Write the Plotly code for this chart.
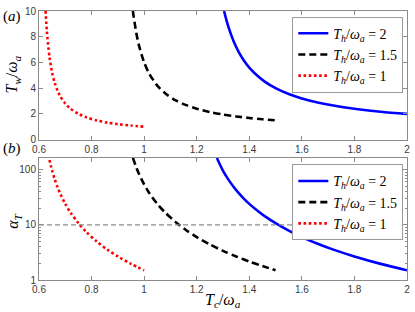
import plotly.graph_objects as go

# ---------------- data ----------------
x_range = [0.6, 2.0]

# panel (a): T_w / omega_a versus T_c / omega_a
red_top_x = [0.625, 0.63, 0.64, 0.65, 0.66, 0.67, 0.68, 0.70, 0.72, 0.75, 0.78, 0.82, 0.86, 0.90, 0.95, 1.0]
red_top_y = [10.0, 8.40, 6.40, 5.20, 4.40, 3.83, 3.40, 2.80, 2.40, 2.00, 1.73, 1.49, 1.32, 1.20, 1.09, 1.0]

black_top_x = [0.957, 0.96, 0.97, 0.98, 1.0, 1.02, 1.05, 1.08, 1.12, 1.16, 1.20, 1.25, 1.30, 1.35,
               1.40, 1.45, 1.5]
black_top_y = [10.0, 9.60, 8.31, 7.35, 6.00, 5.10, 4.20, 3.60, 3.05, 2.68, 2.40, 2.14, 1.95, 1.80,
               1.68, 1.58, 1.5]

blue_top_x = [1.304, 1.31, 1.32, 1.34, 1.36, 1.38, 1.40, 1.43, 1.46, 1.50, 1.55, 1.60, 1.66,
              1.72, 1.80, 1.90, 2.0]
blue_top_y = [10.0, 9.52, 8.80, 7.66, 6.80, 6.13, 5.60, 4.98, 4.49, 4.00, 3.54, 3.20, 2.89,
              2.65, 2.40, 2.17, 2.0]

# panel (b): alpha_T versus T_c / omega_a (log scale)
red_bot_x = [0.64, 0.645, 0.65, 0.66, 0.67, 0.68, 0.70, 0.72, 0.75, 0.78, 0.82, 0.86, 0.90, 0.95, 1.0]
red_bot_y = [150, 118, 96, 66.7, 48.8, 37.5, 24.0, 16.7, 10.7, 7.41, 4.96, 3.55, 2.67, 1.96, 1.5]

black_bot_x = [0.9576, 0.96, 0.97, 0.98, 1.0, 1.02, 1.05, 1.08, 1.12, 1.16, 1.20, 1.25, 1.30,
               1.35, 1.40, 1.45, 1.5]
black_bot_y = [163, 150, 110, 84.4, 54.0, 37.5, 24.0, 16.7, 11.2, 7.99, 6.00, 4.41, 3.38,
               2.67, 2.16, 1.79, 1.5]

blue_bot_x = [1.277, 1.29, 1.304, 1.32, 1.34, 1.36, 1.38, 1.40, 1.43, 1.46, 1.50, 1.55, 1.60,
              1.66, 1.72, 1.80, 1.90, 2.0]
blue_bot_y = [163, 119, 88.2, 66.7, 49.0, 37.5, 29.6, 24.0, 18.2, 14.2, 10.7, 7.84, 6.00,
              4.54, 3.55, 2.67, 1.96, 1.5]

ref_x = [0.6, 1.6]
ref_y = [10, 10]

top_yticks = [0, 2, 4, 6, 8, 10]
x_ticks = [0.6, 0.8, 1.0, 1.2, 1.4, 1.6, 1.8, 2.0]
x_ticktext = ["0.6", "0.8", "1", "1.2", "1.4", "1.6", "1.8", "2"]

labels = ["<i>T</i><sub><i>h</i></sub>/<i>ω</i><sub><i>a</i></sub> = 2",
          "<i>T</i><sub><i>h</i></sub>/<i>ω</i><sub><i>a</i></sub> = 1.5",
          "<i>T</i><sub><i>h</i></sub>/<i>ω</i><sub><i>a</i></sub> = 1"]

# ---------------- styles ----------------
blue_line = dict(color="#0000FF", width=2.6)
black_line = dict(color="#000000", width=2.6, dash="7px,4px")
red_line = dict(color="#FF0000", width=2.6, dash="2.6px,2.6px")
SERIF = "Liberation Serif, Times New Roman, serif"
SANS = "Liberation Sans, Arial, sans-serif"
AX = "#8a8a8a"

fig = go.Figure()

series = [
    (blue_top_x, blue_top_y, blue_bot_x, blue_bot_y, blue_line, labels[0]),
    (black_top_x, black_top_y, black_bot_x, black_bot_y, black_line, labels[1]),
    (red_top_x, red_top_y, red_bot_x, red_bot_y, red_line, labels[2]),
]
for tx, ty, bx, by, ln, name in series:
    fig.add_trace(go.Scatter(x=tx, y=ty, mode="lines", line=dict(**ln, shape="spline", smoothing=0.8),
                             name=name, xaxis="x", yaxis="y", legend="legend"))
for tx, ty, bx, by, ln, name in series:
    fig.add_trace(go.Scatter(x=bx, y=by, mode="lines", line=dict(**ln, shape="spline", smoothing=0.8),
                             name=name, xaxis="x2", yaxis="y2", legend="legend2"))

fig.add_trace(go.Scatter(x=ref_x, y=ref_y, mode="lines", showlegend=False,
                         line=dict(color="#8c8c8c", width=1.3, dash="5px,3px"),
                         xaxis="x2", yaxis="y2"))

axis_common = dict(showline=True, linecolor=AX, linewidth=1, mirror="ticks",
                   ticks="inside", ticklen=4, tickcolor=AX, showgrid=False, zeroline=False,
                   tickfont=dict(family=SANS, size=10, color="#3a3a3a"))

legend_common = dict(x=0.99, xanchor="right", yanchor="top", bgcolor="white",
                     bordercolor="#9a9a9a", borderwidth=1,
                     font=dict(family=SERIF, size=14, color="black"),
                     tracegroupgap=0, itemwidth=30)

fig.update_layout(
    width=415, height=312,
    margin=dict(l=39, r=5, t=7, b=32),
    paper_bgcolor="white", plot_bgcolor="white",
    xaxis=dict(domain=[0, 1], anchor="y", range=x_range, tickvals=x_ticks, ticktext=x_ticktext,
               **axis_common),
    yaxis=dict(domain=[0.522, 1], anchor="x", range=[0, 10], tickvals=top_yticks, **axis_common),
    xaxis2=dict(domain=[0, 1], anchor="y2", range=x_range, tickvals=x_ticks, ticktext=x_ticktext,
                **axis_common),
    yaxis2=dict(domain=[0, 0.454], anchor="x2", type="log", range=[0, 2.214],
                tickvals=[1, 10, 100], ticktext=["1", "10", "100"],
                minor=dict(ticks="inside", ticklen=2, tickcolor=AX, showgrid=False,
                           tickvals=[2, 3, 4, 5, 6, 7, 8, 9, 20, 30, 40, 50, 60, 70, 80, 90, 200]),
                **axis_common),
    legend=dict(y=0.979, **legend_common),
    legend2=dict(y=0.430, **legend_common),
    showlegend=True,
)

ann_font = dict(family=SERIF, size=15, color="black")
fig.add_annotation(text="(<i>a</i>)", xref="paper", yref="paper", x=-0.073, y=0.978,
                   showarrow=False, font=ann_font, xanchor="center", yanchor="middle")
fig.add_annotation(text="(<i>b</i>)", xref="paper", yref="paper", x=-0.073, y=0.487,
                   showarrow=False, font=ann_font, xanchor="center", yanchor="middle")
fig.add_annotation(text="<i>T</i><sub><i>w</i></sub>/<i>ω</i><sub><i>a</i></sub>", xref="paper", yref="paper",
                   x=-0.072, y=0.762, textangle=-90, showarrow=False,
                   font=dict(family=SERIF, size=16, color="black"), xanchor="center", yanchor="middle")
fig.add_annotation(text="<i>α</i><sub><i>T</i></sub>", xref="paper", yref="paper",
                   x=-0.068, y=0.22, textangle=-90, showarrow=False,
                   font=dict(family=SERIF, size=16, color="black"), xanchor="center", yanchor="middle")
fig.add_annotation(text="<i>T</i><sub><i>c</i></sub>/<i>ω</i><sub><i>a</i></sub>", xref="paper", yref="paper",
                   x=0.5, y=-0.075, showarrow=False,
                   font=dict(family=SERIF, size=16, color="black"), xanchor="center", yanchor="middle")

fig.write_html("out.html", config={"displayModeBar": False},
               post_script="document.body.style.margin='0';document.body.style.overflow='hidden';")
